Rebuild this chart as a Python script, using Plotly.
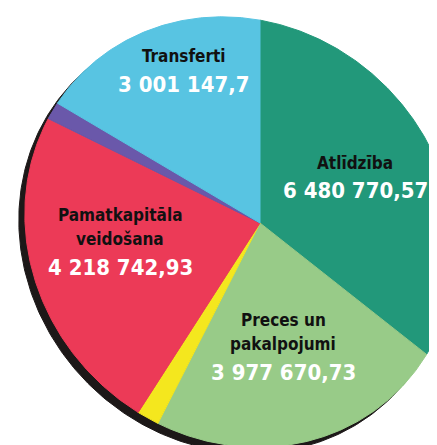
import numpy as np
import plotly.graph_objects as go

# ---------------- data ----------------
categories = [
    "Atlīdzība",
    "Preces un pakalpojumi",
    "Citi izdevumi (dzeltenais)",
    "Pamatkapitāla veidošana",
    "Citi izdevumi (violetais)",
    "Transferti",
]
values = [6480770.57, 3977670.73, 290000.0, 4218742.93, 220000.0, 3001147.70]
label_lines = [
    ["Atlīdzība"],
    ["Preces un", "pakalpojumi"],
    None,
    ["Pamatkapitāla", "veidošana"],
    None,
    ["Transferti"],
]

# ---------------- style / layout ----------------
colors = ["#22987a", "#98cb88", "#f4e71e", "#ec3a57", "#6a58aa", "#58c4e2"]
W, H = 437, 445
APEX = np.array([252.0, 215.0])        # where slices meet (pixel space)
CENTER = np.array([232.0, 224.0])      # ellipse centre
RIM_CENTER = np.array([226.0, 230.0])  # dark 3D rim
A_SEMI, B_SEMI = 224.0, 206.0
U = np.array([1.0, 1.0]) / np.sqrt(2)
V = np.array([1.0, -1.0]) / np.sqrt(2)

name_pos = {0: (347, 161), 1: (275, 318), 3: (112, 213), 5: (176, 54)}
value_pos = {0: (347, 190), 1: (275, 372), 3: (112, 267), 5: (175, 84)}
LINE_GAP = 24
FONT = "DejaVu Sans Condensed, DejaVu Sans, sans-serif"
NAME_SIZE = 17
VALUE_SIZE = 22


def ray_hit(theta):
    d = np.array([np.sin(theta), -np.cos(theta)])
    rel = APEX - CENTER
    p0 = np.array([rel @ U / A_SEMI, rel @ V / B_SEMI])
    dd = np.array([d @ U / A_SEMI, d @ V / B_SEMI])
    a = dd @ dd
    b = 2 * p0 @ dd
    c = p0 @ p0 - 1
    t = (-b + np.sqrt(b * b - 4 * a * c)) / (2 * a)
    return APEX + t * d


def fmt(v):
    s = f"{v:,.2f}".replace(",", " ").replace(".", ",")
    return s.rstrip("0").rstrip(",")


fig = go.Figure()

# dark rim behind the pie
phi = np.linspace(0, 2 * np.pi, 400)
rim = RIM_CENTER[None, :] + A_SEMI * np.cos(phi)[:, None] * U + B_SEMI * np.sin(phi)[:, None] * V
fig.add_trace(go.Scatter(x=rim[:, 0], y=rim[:, 1], fill="toself", fillcolor="#1c1818",
                         line=dict(color="#1c1818", width=1), mode="lines", hoverinfo="skip"))

vals = np.array(values)
frac = vals / vals.sum()
cum = np.concatenate([[0.0], np.cumsum(frac)]) * 2 * np.pi

for i, cat in enumerate(categories):
    th = np.linspace(cum[i], cum[i + 1], max(int(np.degrees(cum[i + 1] - cum[i]) * 2), 4))
    pts = np.array([ray_hit(t) for t in th])
    xs = np.concatenate([[APEX[0]], pts[:, 0], [APEX[0]]])
    ys = np.concatenate([[APEX[1]], pts[:, 1], [APEX[1]]])
    fig.add_trace(go.Scatter(x=xs, y=ys, fill="toself", fillcolor=colors[i],
                             line=dict(color=colors[i], width=1), mode="lines",
                             name=cat, hoverinfo="text", text=f"{cat}: {fmt(values[i])}"))

annotations = []
for i, lines in enumerate(label_lines):
    if not lines:
        continue
    nx, ny = name_pos[i]
    for k, ln in enumerate(lines):
        annotations.append(dict(x=nx, y=ny + k * LINE_GAP - 0.38 * NAME_SIZE, xref="x", yref="y",
                                text=ln, showarrow=False, xanchor="center", yanchor="middle",
                                font=dict(family=FONT, size=NAME_SIZE, color="#111111", weight="bold")))
    vx, vy = value_pos[i]
    annotations.append(dict(x=vx, y=vy - 0.36 * VALUE_SIZE, xref="x", yref="y", text=fmt(values[i]),
                            showarrow=False, xanchor="center", yanchor="middle",
                            font=dict(family=FONT, size=VALUE_SIZE, color="white", weight="bold")))

fig.update_layout(
    width=W, height=H, margin=dict(l=0, r=0, t=0, b=0),
    xaxis=dict(range=[0, W], visible=False, fixedrange=True),
    yaxis=dict(range=[H, 0], visible=False, fixedrange=True),
    plot_bgcolor="white", paper_bgcolor="white", showlegend=False,
    annotations=annotations,
)
fig.write_html("out.html")
